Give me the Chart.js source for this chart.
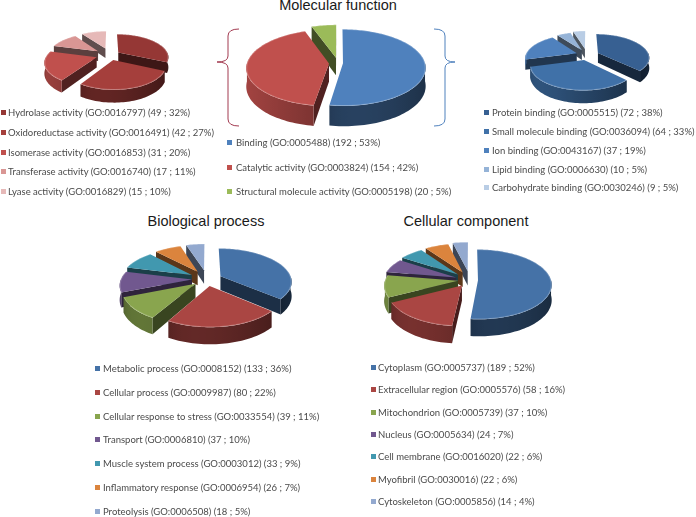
<!DOCTYPE html>
<html><head><meta charset="utf-8">
<style>
html,body{margin:0;padding:0;background:#fff;width:696px;height:517px;overflow:hidden}
body{filter:blur(.35px)}
canvas{position:absolute}
.t{position:absolute;white-space:nowrap;font-family:"Liberation Sans",Arial,sans-serif;font-size:14.5px;color:#1a1a1a;transform:translateX(-50%);line-height:18px}
.l{position:absolute;white-space:nowrap;font-family:Lato,sans-serif;font-size:9.5px;color:#4a4a4a;line-height:14px}
.s{position:absolute;width:5px;height:5px}
</style>
<script src="https://cdn.jsdelivr.net/npm/chart.js@4"></script>
</head><body>
<script>
// ---------- data ----------
const enzymeLabels=["Hydrolase activity (GO:0016797) (49 ; 32%)","Oxidoreductase activity (GO:0016491) (42 ; 27%)","Isomerase activity (GO:0016853) (31 ; 20%)","Transferase activity (GO:0016740) (17 ; 11%)","Lyase activity (GO:0016829) (15 ; 10%)"];
const enzymeValues=[49,42,31,17,15];
const functionLabels=["Binding (GO:0005488) (192 ; 53%)","Catalytic activity (GO:0003824) (154 ; 42%)","Structural molecule activity (GO:0005198) (20 ; 5%)"];
const functionValues=[192,154,20];
const bindingLabels=["Protein binding (GO:0005515) (72 ; 38%)","Small molecule binding (GO:0036094) (64 ; 33%)","Ion binding (GO:0043167) (37 ; 19%)","Lipid binding (GO:0006630) (10 ; 5%)","Carbohydrate binding (GO:0030246) (9 ; 5%)"];
const bindingValues=[72,64,37,10,9];
const processLabels=["Metabolic process (GO:0008152) (133 ; 36%)","Cellular process (GO:0009987) (80 ; 22%)","Cellular response to stress (GO:0033554) (39 ; 11%)","Transport (GO:0006810) (37 ; 10%)","Muscle system process (GO:0003012) (33 ; 9%)","Inflammatory response (GO:0006954) (26 ; 7%)","Proteolysis (GO:0006508) (18 ; 5%)"];
const processValues=[133,80,39,37,33,26,18];
const componentLabels=["Cytoplasm (GO:0005737) (189 ; 52%)","Extracellular region (GO:0005576) (58 ; 16%)","Mitochondrion (GO:0005739) (37 ; 10%)","Nucleus (GO:0005634) (24 ; 7%)","Cell membrane (GO:0016020) (22 ; 6%)","Myofibril (GO:0030016) (22 ; 6%)","Cytoskeleton (GO:0005856) (14 ; 4%)"];
const componentValues=[189,58,37,24,22,22,14];
const titles=[["Molecular function",338,-4],["Biological process",206,212],["Cellular component",466,212]];

// ---------- styles ----------
const redShades=['#953735','#a53f3c','#c0504d','#d99694','#e6b9b8'];
const blueShades=['#376092','#4071a8','#4f81bd','#95b3d7','#b9cde5'];
const office3=['#4f81bd','#c0504d','#9bbb59'];
const office7=['#4572a7','#aa4643','#89a54e','#71588f','#4198af','#db843d','#93a9cf'];

function shade(hex,m){
  const n=parseInt(hex.slice(1),16);
  return `rgb(${((n>>16)&255)*m|0},${((n>>8)&255)*m|0},${(n&255)*m|0})`;
}
function makePie(labels,values,colors,v){
  const size=2*(v.R+34), cv=document.createElement('canvas');
  cv.width=size;cv.height=size;
  cv.style.left=(v.cx-size/2)+'px';cv.style.top=(v.cy-size/2)+'px';
  cv.style.width=size+'px';cv.style.height=size+'px';
  document.body.appendChild(cv);
  const pie3d={id:'pie3d',beforeDatasetDraw(chart,args){
    const ctx=chart.ctx, arcs=chart.getDatasetMeta(args.index).data;
    const items=arcs.map((arc,i)=>({arc,i,mid:(arc.startAngle+arc.endAngle)/2,ex:v.explode[i]}));
    items.sort((a,b)=>(a.ex+a.arc.outerRadius)*Math.sin(a.mid)-(b.ex+b.arc.outerRadius)*Math.sin(b.mid));
    for(const it of items){
      const {arc,mid,ex}=it, R=arc.outerRadius, col=arc.options.backgroundColor;
      const a0=arc.startAngle,a1=arc.endAngle;
      const ou=ex*Math.cos(mid), ov=ex*Math.sin(mid);
      const P=(r,a,h)=>{
        const uu=ou+r*Math.cos(a), vv=ov+r*Math.sin(a), f=1/(1-vv*v.p/R);
        return [arc.x+uu*f, arc.y+vv*v.k*f+h*f];
      };
      const poly=(pts,fill)=>{ctx.beginPath();pts.forEach((p,i)=>i?ctx.lineTo(p[0],p[1]):ctx.moveTo(p[0],p[1]));ctx.closePath();ctx.fillStyle=fill;ctx.fill();};
      const d=v.depth;
      if(Math.cos(a0)<0) poly([P(0,a0,0),P(R,a0,0),P(R,a0,d),P(0,a0,d)],shade(col,.42));
      if(Math.cos(a1)>0) poly([P(0,a1,0),P(R,a1,0),P(R,a1,d),P(0,a1,d)],shade(col,.42));
      // outer wall: the front-facing part of this slice's rim
      const ws=Math.max(a0,0), we=Math.min(a1,Math.PI);
      if(we>ws){
        const N=Math.ceil((we-ws)/(Math.PI/90)), top=[], bot=[];
        for(let j=0;j<=N;j++){const a=ws+(we-ws)*j/N;top.push(P(R,a,0));bot.unshift(P(R,a,d));}
        const x0=P(R,we,0)[0], x1=P(R,ws,0)[0];
        const g=ctx.createLinearGradient(x0,0,x1,0);
        for(let j=0;j<=N;j++){
          const a=we-(we-ws)*j/N, t=(P(R,a,0)[0]-x0)/Math.max(1,x1-x0);
          let b=.62-.24*Math.cos(a);
          b*=1-.3*Math.exp(-(a1-a)/.35);
          g.addColorStop(Math.min(1,Math.max(0,t)),shade(col,b));
        }
        poly(top.concat(bot),g);
      }
      const n=Math.ceil((a1-a0)/(Math.PI/120));
      const face=[P(0,a0,0)];
      for(let j=0;j<=n;j++) face.push(P(R,a0+(a1-a0)*j/n,0));
      poly(face,col);
      ctx.beginPath();
      for(let j=0;j<=n;j++){const p=P(R-.5,a0+(a1-a0)*j/n,0);j?ctx.lineTo(p[0],p[1]):ctx.moveTo(p[0],p[1]);}
      ctx.strokeStyle='rgba(255,255,255,.22)';ctx.lineWidth=1;ctx.stroke();
    }
    return false;
  }};
  new Chart(cv,{type:'pie',
    data:{labels,datasets:[{data:values,backgroundColor:colors,borderWidth:0}]},
    options:{responsive:false,animation:false,events:[],radius:v.R,
      plugins:{legend:{display:false},tooltip:{enabled:false}}},
    plugins:[pie3d]});
}
function legend(labels,colors,sx,tx,ys){
  labels.forEach((t,i)=>{
    const s=document.createElement('div');s.className='s';s.style.left=sx+'px';s.style.top=(ys[i]-3)+'px';s.style.background=colors[i];document.body.appendChild(s);
    const l=document.createElement('div');l.className='l';l.textContent=t;l.style.left=tx+'px';l.style.top=(ys[i]-7)+'px';document.body.appendChild(l);
  });
}
titles.forEach(([t,x,y])=>{const e=document.createElement('div');e.className='t';e.textContent=t;e.style.left=x+'px';e.style.top=y+'px';document.body.appendChild(e);});

makePie(enzymeLabels,enzymeValues,redShades,{cx:110,cy:55,R:50,k:.45,p:.18,depth:10,explode:[10,11,14,15,16]});
makePie(functionLabels,functionValues,office3,{cx:338,cy:63,R:82,k:.46,p:.115,depth:18,explode:[5,9,12]});
makePie(bindingLabels,bindingValues,blueShades,{cx:587,cy:55,R:51,k:.45,p:.18,depth:10,explode:[12,11,11,12,15]});
makePie(processLabels,processValues,office7,{cx:207,cy:279,R:71,k:.46,p:.15,depth:14,explode:[15,15,15,15,18,19,20]});
makePie(componentLabels,componentValues,office7,{cx:470,cy:280,R:73,k:.47,p:.12,depth:15,explode:[8,14,12,15,17,18,20]});

legend(enzymeLabels,redShades,1,8,[113,133,153,172,192]);
legend(functionLabels,office3,227,236,[143,168,192]);
legend(bindingLabels,blueShades,484,492,[113,132,151,170,188]);
legend(processLabels,office7,95,103,[369,393,417,440,464,488,512]);
legend(componentLabels,office7,371,378,[368,390,413,435,457,480,502]);

// ---------- brackets ----------
const br=document.createElement('canvas');br.width=696;br.height=140;br.style.left='0';br.style.top='0';document.body.appendChild(br);
const b=br.getContext('2d');b.lineWidth=1;
function bracket(x0,x1,xt,col){
  b.strokeStyle=col;b.beginPath();b.moveTo(x0,29);b.quadraticCurveTo(x1,29,x1,36);b.lineTo(x1,56);b.quadraticCurveTo(x1,62,xt,62);b.quadraticCurveTo(x1,62,x1,68);b.lineTo(x1,119);b.quadraticCurveTo(x1,126,x0,126);b.stroke();
}
bracket(239,228,217,'#a23a50');
bracket(434,445,455,'#4f81bd');
</script>
</body></html>
